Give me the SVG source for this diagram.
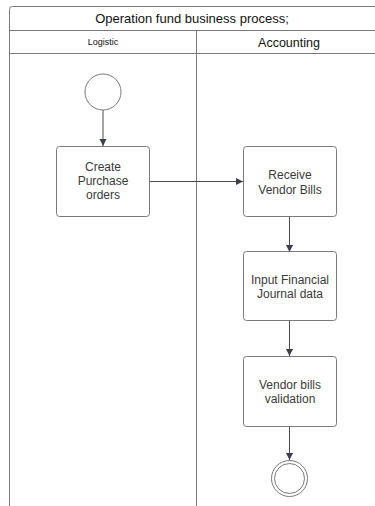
<svg xmlns="http://www.w3.org/2000/svg" width="375" height="506" viewBox="0 0 375 506">
  <style>
    .frame { fill: none; stroke: #7a7a7a; stroke-width: 1; }
    .task { fill: #ffffff; stroke: #7a7a7a; stroke-width: 1; }
    .event { fill: #ffffff; stroke: #7a7a7a; stroke-width: 1; }
    .flow { fill: none; stroke: #4a4a4a; stroke-width: 1; marker-end: url(#arrow); }
    text { font-family: "Liberation Sans", Arial, sans-serif; fill: #3a3a3a; text-anchor: middle; }
    .label { font-size: 12px; }
    .title { font-size: 13px; fill: #111111; }
    .lane-small { font-size: 9px; fill: #111111; }
    .lane-big { font-size: 12.5px; fill: #111111; }
  </style>
  <defs>
    <marker id="arrow" viewBox="0 0 10 10" refX="10" refY="5" markerWidth="7" markerHeight="9" markerUnits="userSpaceOnUse" orient="auto">
      <path d="M0,0 L10,5 L0,10 Z" fill="#3b3f4a"/>
    </marker>
  </defs>
  <rect width="375" height="506" fill="#ffffff"/>

  <!-- pool and lanes -->
  <g id="pool">
    <rect class="frame" x="9.5" y="6.5" width="420" height="520" rx="3"/>
    <line class="frame" x1="9.5" y1="30.5" x2="375" y2="30.5"/>
    <line class="frame" x1="9.5" y1="53.5" x2="375" y2="53.5"/>
    <line class="frame" x1="196.5" y1="30.5" x2="196.5" y2="506"/>
    <text class="title" x="192" y="23">Operation fund business process;</text>
    <text class="lane-small" x="103" y="45">Logistic</text>
    <text class="lane-big" x="289" y="47">Accounting</text>
  </g>

  <!-- connectors -->
  <g id="connectors">
    <line class="flow" x1="103" y1="110" x2="103" y2="146"/>
    <line class="flow" x1="149" y1="181.5" x2="243" y2="181.5"/>
    <line class="flow" x1="289.5" y1="216" x2="289.5" y2="252"/>
    <line class="flow" x1="289.5" y1="321" x2="289.5" y2="356"/>
    <line class="flow" x1="289.5" y1="426" x2="289.5" y2="460"/>
  </g>

  <g id="start">
    <circle class="event" cx="103" cy="92" r="18"/>
  </g>

  <g id="create-po">
    <rect class="task" x="56.5" y="146.5" width="93" height="70" rx="3"/>
    <text class="label" x="103" y="171">Create</text>
    <text class="label" x="103" y="185">Purchase</text>
    <text class="label" x="103" y="199">orders</text>
  </g>

  <g id="receive-bills">
    <rect class="task" x="243.5" y="146.5" width="93" height="70" rx="3"/>
    <text class="label" x="290" y="179">Receive</text>
    <text class="label" x="290" y="194">Vendor Bills</text>
  </g>

  <g id="input-journal">
    <rect class="task" x="243.5" y="251.5" width="93" height="69" rx="3"/>
    <text class="label" x="290" y="284">Input Financial</text>
    <text class="label" x="290" y="298">Journal data</text>
  </g>

  <g id="validate-bills">
    <rect class="task" x="243.5" y="356.5" width="93" height="70" rx="3"/>
    <text class="label" x="290" y="389">Vendor bills</text>
    <text class="label" x="290" y="403">validation</text>
  </g>

  <g id="end">
    <circle class="event" cx="289.5" cy="478.5" r="18"/>
    <circle class="event" cx="289.5" cy="478.5" r="15"/>
  </g>
</svg>
